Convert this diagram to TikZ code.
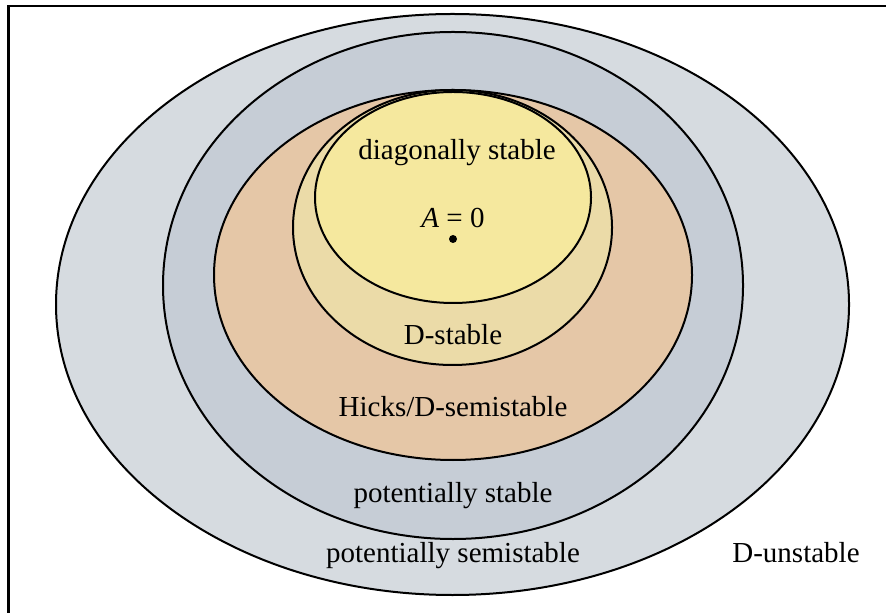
\documentclass[tikz,border=0pt]{standalone}
\usepackage{fontspec}
\setmainfont{Liberation Serif}
\usepackage{tikz}
\definecolor{semigray}{HTML}{D6DBE0}
\definecolor{potgray}{HTML}{C6CDD6}
\definecolor{hickstan}{HTML}{E5C7A7}
\definecolor{dstabsand}{HTML}{EBDBA8}
\definecolor{diagyellow}{HTML}{F5E89E}
\tikzset{region/.style={draw, line width=1pt}, lbl/.style={font=\fontsize{14.5}{17}\selectfont, inner sep=0pt}}

\begin{document}
\begin{tikzpicture}[x=0.5pt, y=-0.5pt]
 \useasboundingbox (0,0) rectangle (886,613);
 \clip (0,0) rectangle (886,613);
 \coordinate (o) at (453,239);
  \draw[line width=1.25pt] (8.5,6) rectangle (910,640);
  \draw[region, fill = semigray] (452.5,304.5) ellipse [x radius=396.5, y radius=290.5];
  \draw[region, fill = potgray] (453,285.5) ellipse [x radius=290, y radius=253.5];
  \draw[region, fill = hickstan] (453,275) ellipse [x radius=239, y radius=185];
  \draw[region, fill = dstabsand] (452.5,227.5) ellipse [x radius=159.5, y radius=137.5];
  \draw[region, fill = diagyellow] (453,197.5) ellipse [x radius=138, y radius=105.5];
\fill (o) circle (4);
\node[lbl] (diag) at (457,153) {diagonally stable};
\node[lbl] (zero) at (453,218) {\textit{A} = 0};
\node[lbl] (dst) at (453,335) {D-stable};
\node[lbl] (hicks) at (453,407) {Hicks/D-semistable};
\node[lbl] (pst) at (453,496) {potentially stable};
\node[lbl] (psemi) at (453,556) {potentially semistable};
\node[lbl] (dun) at (796,553) {D-unstable};
\end{tikzpicture}
\end{document}
